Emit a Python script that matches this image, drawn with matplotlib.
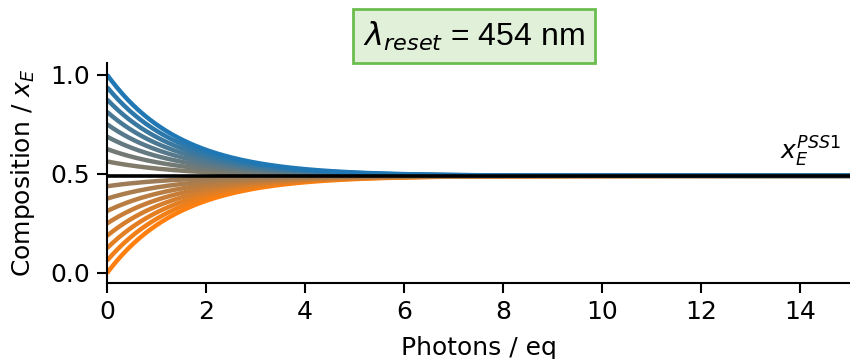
import numpy as np
import matplotlib.pyplot as plt
from matplotlib.colors import to_rgb

# start compositions of the reset curves
x_start = [0.0, 0.0625, 0.125, 0.1875, 0.25, 0.3125, 0.375, 0.4375,
           0.5625, 0.625, 0.6875, 0.75, 0.8125, 0.875, 0.9375, 1.0]
pss1 = 0.49
rate = 0.68          # per eq photons, estimated from the decay
photons = np.linspace(0, 15, 400)

blue = np.array(to_rgb("tab:blue"))
orange = np.array(to_rgb("tab:orange"))

fig = plt.figure(figsize=(8.5, 3.59), dpi=100)
ax = fig.add_axes([0.126, 0.212, 0.874, 0.613])

for x0 in x_start:
    col = orange + (blue - orange) * x0
    y = pss1 + (x0 - pss1) * np.exp(-rate * photons)
    ax.plot(photons, y, color=col, lw=3.2, solid_capstyle="butt")

ax.axhline(pss1, color="black", lw=2.6)
ax.text(14.2, pss1 + 0.035, r"$x_E^{PSS1}$", fontsize=18, ha="center", va="bottom")

ax.set_xlim(0, 15)
ax.set_ylim(-0.05, 1.06)
ax.set_xticks([0, 2, 4, 6, 8, 10, 12, 14])
ax.set_yticks([0.0, 0.5, 1.0])
ax.tick_params(labelsize=18, direction="out", length=7, width=1.5, pad=5)
ax.spines["top"].set_visible(False)
ax.spines["right"].set_visible(False)
ax.spines["left"].set_linewidth(1.5)
ax.spines["bottom"].set_linewidth(1.5)
ax.set_xlabel("Photons / eq", fontsize=18, labelpad=9)
ax.set_ylabel(r"Composition / $x_E$", fontsize=18, labelpad=10)

fig.text(0.558, 0.9, r"$\lambda_{reset}$ = 454 nm", fontsize=23,
         family="Liberation Sans", ha="center", va="center",
         bbox=dict(boxstyle="square,pad=0.32", facecolor="#e0f0d9",
                   edgecolor="#6cbd4f", linewidth=2))

fig.savefig("out.png", dpi=100)
